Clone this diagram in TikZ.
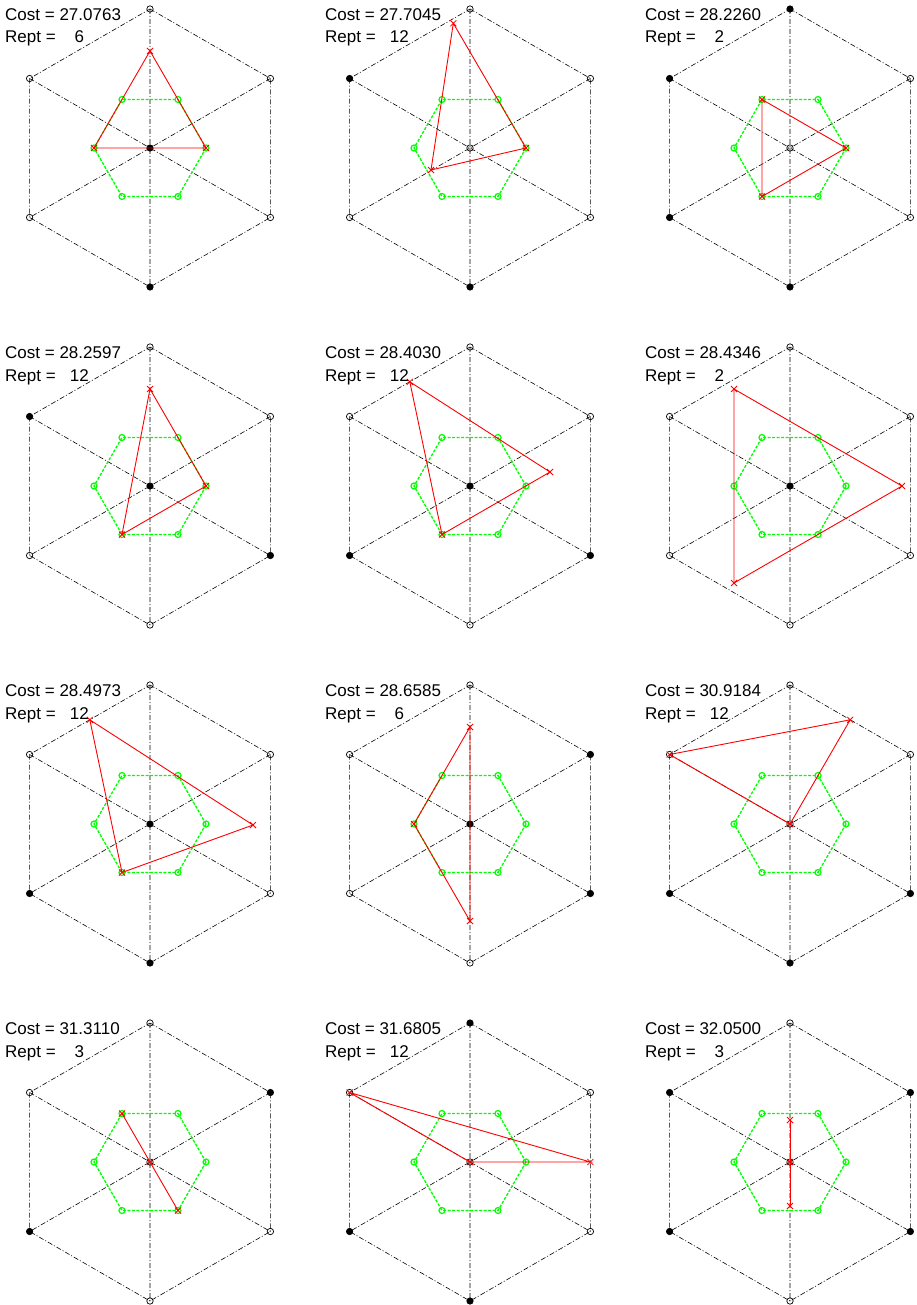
\documentclass[tikz,border=0pt]{standalone}
\usepackage{fontspec}
\setmainfont{Liberation Sans}
\definecolor{gcol}{RGB}{0,255,0}
\tikzset{
  blk/.style={black, line width=0.6pt, dash pattern=on 5pt off 2pt on 1pt off 2pt},
  grn/.style={draw=gcol, line width=1.3pt, dash pattern=on 3pt off 1.5pt},
  gmark/.style={draw=gcol, line width=1.2pt},
  redl/.style={red, line width=0.9pt},
  xmk/.style={red, line width=0.8pt},
  mo/.style={draw=black, line width=0.7pt},
  mf/.style={draw=black, fill=black, line width=0.7pt},
  lbl/.style={anchor=base west, inner sep=0pt, font=\fontsize{17}{20}\selectfont},
}
\newcommand\hexbase[7]{%
  \coordinate (T) at (0,-139);
  \coordinate (B) at (0,139);
  \coordinate (UL) at (-120.4,-69.5);
  \coordinate (UR) at (120.4,-69.5);
  \coordinate (LL) at (-120.4,69.5);
  \coordinate (LR) at (120.4,69.5);
  \coordinate (C) at (0,0);
  \coordinate (G0) at (56,0);
  \coordinate (G1) at (28,-48.5);
  \coordinate (G2) at (-28,-48.5);
  \coordinate (G3) at (-56,0);
  \coordinate (G4) at (-28,48.5);
  \coordinate (G5) at (28,48.5);
  \draw[blk] (T) -- (UR) -- (LR) -- (B) -- (LL) -- (UL) -- cycle;
  \draw[blk] (T) -- (B) (UL) -- (LR) (UR) -- (LL);
  \path[#1] (T) circle (3.2pt);
  \path[#2] (UL) circle (3.2pt);
  \path[#3] (UR) circle (3.2pt);
  \path[#4] (LL) circle (3.2pt);
  \path[#5] (LR) circle (3.2pt);
  \path[#6] (B) circle (3.2pt);
  \path[#7] (C) circle (3.2pt);
  \draw[grn] (G0) -- (G1) -- (G2) -- (G3) -- (G4) -- (G5) -- cycle;
  \foreach \g in {G0,G1,G2,G3,G4,G5} \draw[gmark] (\g) circle (3pt);
}
\newcommand\xm[1]{\draw[xmk] (#1) ++(-3,-3) -- ++(6,6) (#1) ++(-3,3) -- ++(6,-6);}
\newcommand\tri[3]{\draw[redl] (#1) -- (#2) -- (#3) -- cycle; \xm{#1}\xm{#2}\xm{#3}}
\newcommand\lbls[4]{%
  \node[lbl] (cost#1) at (-145,-127.3) {Cost = #2};
  \node[lbl] (rept#1) at (-145,-105) {Rept =\hspace{#3}#4};
}
\begin{document}
\begin{tikzpicture}[x=1pt,y=-1pt]
\fill[white] (0,0) rectangle (917,1305);
\useasboundingbox (0,0) rectangle (917,1305);
% ---- row 1
\begin{scope}[shift={(150,148)}]
  \hexbase{mo}{mo}{mo}{mo}{mo}{mf}{mf}
  \coordinate (r1a) at (0,-97);
  \tri{r1a}{G3}{G0}
  \lbls{1}{27.0763}{1.112em}{6}
\end{scope}
\begin{scope}[shift={(470,148)}]
  \hexbase{mo}{mf}{mo}{mo}{mo}{mf}{mo}
  \coordinate (r2a) at (-16.7,-124.7);
  \coordinate (r2c) at (-39,22);
  \tri{r2a}{G0}{r2c}
  \lbls{2}{27.7045}{0.834em}{12}
\end{scope}
\begin{scope}[shift={(790,148)}]
  \hexbase{mf}{mf}{mo}{mf}{mo}{mf}{mo}
  \tri{G2}{G0}{G4}
  \lbls{3}{28.2260}{1.112em}{2}
\end{scope}
% ---- row 2
\begin{scope}[shift={(150,486)}]
  \hexbase{mo}{mf}{mo}{mo}{mf}{mo}{mf}
  \coordinate (r4a) at (0,-97);
  \tri{r4a}{G0}{G4}
  \lbls{4}{28.2597}{0.834em}{12}
\end{scope}
\begin{scope}[shift={(470,486)}]
  \hexbase{mo}{mo}{mo}{mf}{mf}{mo}{mf}
  \coordinate (r5a) at (-60.2,-104.2);
  \coordinate (r5b) at (80,-14);
  \tri{r5a}{r5b}{G4}
  \lbls{5}{28.4030}{0.834em}{12}
\end{scope}
\begin{scope}[shift={(790,486)}]
  \hexbase{mo}{mo}{mo}{mo}{mo}{mo}{mf}
  \coordinate (r6a) at (-56,-97);
  \coordinate (r6b) at (112,0);
  \coordinate (r6c) at (-56,97);
  \tri{r6a}{r6b}{r6c}
  \lbls{6}{28.4346}{1.112em}{2}
\end{scope}
% ---- row 3
\begin{scope}[shift={(150,824)}]
  \hexbase{mo}{mo}{mo}{mf}{mo}{mf}{mf}
  \coordinate (r7a) at (-60.2,-104.2);
  \coordinate (r7b) at (103,1);
  \tri{r7a}{r7b}{G4}
  \lbls{7}{28.4973}{0.834em}{12}
\end{scope}
\begin{scope}[shift={(470,824)}]
  \hexbase{mo}{mo}{mf}{mo}{mf}{mo}{mf}
  \coordinate (r8a) at (0,-97);
  \coordinate (r8c) at (0,97);
  \tri{r8a}{G3}{r8c}
  \lbls{8}{28.6585}{1.112em}{6}
\end{scope}
\begin{scope}[shift={(790,824)}]
  \hexbase{mo}{mo}{mo}{mf}{mf}{mf}{mo}
  \coordinate (r9b) at (60.2,-104.2);
  \tri{UL}{r9b}{C}
  \lbls{9}{30.9184}{0.834em}{12}
\end{scope}
% ---- row 4
\begin{scope}[shift={(150,1162)}]
  \hexbase{mo}{mo}{mf}{mf}{mo}{mo}{mo}
  \tri{G2}{C}{G5}
  \lbls{10}{31.3110}{1.112em}{3}
\end{scope}
\begin{scope}[shift={(470,1162)}]
  \hexbase{mf}{mo}{mo}{mf}{mo}{mf}{mo}
  \coordinate (r11c) at (120.4,0);
  \tri{UL}{C}{r11c}
  \lbls{11}{31.6805}{0.834em}{12}
\end{scope}
\begin{scope}[shift={(790,1162)}]
  \hexbase{mo}{mf}{mf}{mf}{mf}{mo}{mo}
  \coordinate (r12a) at (0,-42);
  \coordinate (r12c) at (0,44);
  \tri{r12a}{C}{r12c}
  \lbls{12}{32.0500}{1.112em}{3}
\end{scope}
\end{tikzpicture}
\end{document}
